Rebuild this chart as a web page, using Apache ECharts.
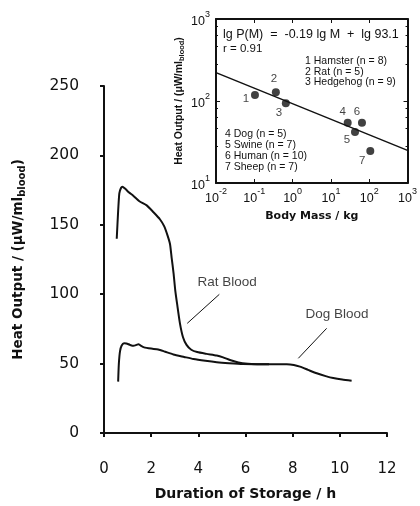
<!DOCTYPE html>
<html><head><meta charset="utf-8">
<script src="https://cdn.jsdelivr.net/npm/echarts@6/dist/echarts.min.js"></script>
<style>html,body{margin:0;padding:0;background:#fff}#c{width:420px;height:506px}</style>
</head><body><div id="c"></div>
<script>
// ---- Main chart data ----
const xTicks = [0, 2, 4, 6, 8, 10, 12];
const yTicks = [0, 50, 100, 150, 200, 250];
const ratTime = [0.54,0.6,0.65,0.72,0.78,0.9,1.05,1.24,1.5,1.81,2.1,2.37,2.55,2.7,2.8,2.87,2.95,3.02,3.1,3.22,3.35,3.5,3.7,3.95,4.35,4.78,5.05,5.34,5.7,6.1,6.5,7.0];
const ratHeat = [140,160,172.7,176.5,177.5,176,173.5,171,167,164,159,154,149,142,136,126,115,103,93,79,69,63.5,60,58.3,57,55.8,54.5,52.6,50.8,49.9,49.6,49.5];
const dogTime = [0.6,0.63,0.68,0.75,0.85,0.95,1.1,1.25,1.38,1.46,1.55,1.7,2.0,2.3,2.6,2.94,3.4,3.79,4.3,4.78,5.3,5.9,6.9,7.75,8.05,8.31,8.65,9.02,9.4,9.72,10.1,10.5];
const dogHeat = [37,50,59,63,64.6,64.5,63.5,62.8,63.5,64,63,61.7,60.8,60.2,58.5,56.6,54.8,53.3,52,51,50.3,49.7,49.5,49.5,49,47.8,45.5,43,41,39.6,38.5,37.7];
const annoNames = ['Rat Blood', 'Dog Blood'];
const annoLabelX = [5.22, 9.88];
const annoLabelY = [108.8, 85.7];
const annoLeaderX = [[4.89, 3.53], [9.44, 8.24]];
const annoLeaderY = [[99.9, 79], [75.4, 53.8]];

// ---- Inset data ----
const species = ['Hamster', 'Rat', 'Hedgehog', 'Dog', 'Swine', 'Human', 'Sheep'];
const speciesN = [8, 5, 9, 5, 7, 10, 7];
const bodyMass = [0.104, 0.365, 0.665, 27.4, 42.5, 64.6, 106.6];
const heatOut = [118, 128, 94, 54.3, 41.9, 54.3, 24.5];
const fitMass = [0.01, 1000];
const fitHeat = [222, 25];
const insetExpTicks = [-2, -1, 0, 1, 2, 3];

const chart = echarts.init(document.getElementById('c'), null, {renderer: 'canvas'});
const F = "'Liberation Sans', Arial, sans-serif";
const D = "'DejaVu Sans', sans-serif";
const black = '#111';

const zip = (a, b) => a.map((v, i) => [v, b[i]]);
const supFmt = v => '{b|10}{s|' + Math.round(Math.log10(v)) + '}';
const supRich = {
  b: {fontSize: 12.5, fontFamily: F, color: black, lineHeight: 18, verticalAlign: 'bottom'},
  s: {fontSize: 9, fontFamily: F, color: black, lineHeight: 18, verticalAlign: 'top', padding: [0,0,7,0]}
};
const labelOffsets = [[-9,4],[-2,-13],[-7,10],[-5,-11],[-8,8],[-5,-11],[-8,10]];

const leaderSeries = annoNames.map((n, i) => ({
  type: 'line', xAxisIndex: 0, yAxisIndex: 0, showSymbol: false, silent: true,
  lineStyle: {color: black, width: 1},
  data: zip(annoLeaderX[i], annoLeaderY[i])
}));

const option = {
  animation: false,
  backgroundColor: '#fff',
  grid: [
    {left: 104, right: 33, top: 86, bottom: 73},
    {left: 216, right: 12, top: 19, bottom: 323}
  ],
  xAxis: [
    {
      gridIndex: 0, type: 'value', min: 0, max: 12, interval: 2, offset: 19,
      name: 'Duration of Storage / h', nameLocation: 'middle', nameGap: 35,
      nameTextStyle: {fontFamily: D, fontWeight: 'bold', fontSize: 14, color: black},
      axisLine: {show: true, lineStyle: {color: black, width: 2}},
      axisTick: {show: true, inside: false, length: 4, lineStyle: {color: black, width: 2}},
      axisLabel: {fontFamily: D, fontSize: 15, color: black, margin: 10},
      splitLine: {show: false}
    },
    {
      gridIndex: 1, type: 'log', logBase: 10, min: 0.01, max: 1000,
      name: 'Body Mass / kg', nameLocation: 'middle', nameGap: 28,
      nameTextStyle: {fontFamily: D, fontWeight: 'bold', fontSize: 11, color: black},
      axisLine: {show: true, lineStyle: {color: black, width: 2}},
      axisTick: {show: true, inside: true, length: 4, lineStyle: {color: black, width: 1}},
      axisLabel: {formatter: supFmt, rich: supRich, margin: 4},
      splitLine: {show: false}
    },
    {
      gridIndex: 1, type: 'log', logBase: 10, min: 0.01, max: 1000, position: 'top',
      axisLine: {show: true, lineStyle: {color: black, width: 2}},
      axisTick: {show: true, inside: true, length: 4, lineStyle: {color: black, width: 1}},
      axisLabel: {show: false}, splitLine: {show: false}
    }
  ],
  yAxis: [
    {
      gridIndex: 0, type: 'value', min: 0, max: 250, interval: 50, offset: 15,
      name: 'Heat Output / (μW/ml{sub|blood})', nameLocation: 'middle', nameGap: 62,
      nameTextStyle: {fontFamily: D, fontWeight: 'bold', fontSize: 13.5, color: black,
        rich: {sub: {fontFamily: D, fontWeight: 'bold', fontSize: 10, color: black, padding: [8,0,0,0]}}},
      axisLine: {show: true, lineStyle: {color: black, width: 2}},
      axisTick: {show: true, inside: false, length: 4, lineStyle: {color: black, width: 2}},
      axisLabel: {fontFamily: D, fontSize: 15.5, color: black, margin: 10},
      splitLine: {show: false}
    },
    {
      gridIndex: 1, type: 'log', logBase: 10, min: 10, max: 1000,
      name: 'Heat Output / (μW/ml{sub|blood})', nameLocation: 'middle', nameGap: 30,
      nameTextStyle: {fontFamily: F, fontWeight: 'bold', fontSize: 10.5, color: black,
        rich: {sub: {fontFamily: F, fontWeight: 'bold', fontSize: 7.5, color: black, padding: [6,0,0,0]}}},
      axisLine: {show: true, lineStyle: {color: black, width: 2}},
      axisTick: {show: true, inside: true, length: 4, lineStyle: {color: black, width: 1}},
      minorTick: {show: true, splitNumber: 5, length: 2, lineStyle: {color: black}},
      axisLabel: {formatter: supFmt, rich: supRich, margin: 6},
      splitLine: {show: false}, minorSplitLine: {show: false}
    },
    {
      gridIndex: 1, type: 'log', logBase: 10, min: 10, max: 1000, position: 'right',
      axisLine: {show: true, lineStyle: {color: black, width: 2}},
      axisTick: {show: true, inside: true, length: 4, lineStyle: {color: black, width: 1}},
      minorTick: {show: true, splitNumber: 5, length: 2, lineStyle: {color: black}},
      axisLabel: {show: false}, splitLine: {show: false}, minorSplitLine: {show: false}
    }
  ],
  series: [
    {
      name: 'Rat Blood', type: 'line', xAxisIndex: 0, yAxisIndex: 0, showSymbol: false,
      smooth: 0.2, lineStyle: {color: black, width: 2}, data: zip(ratTime, ratHeat)
    },
    {
      name: 'Dog Blood', type: 'line', xAxisIndex: 0, yAxisIndex: 0, showSymbol: false,
      smooth: 0.2, lineStyle: {color: black, width: 2}, data: zip(dogTime, dogHeat)
    },
    ...leaderSeries,
    {
      type: 'scatter', xAxisIndex: 0, yAxisIndex: 0, symbolSize: 0, silent: true,
      data: annoNames.map((n, i) => ({value: [annoLabelX[i], annoLabelY[i]], name: n})),
      label: {show: true, position: 'inside', formatter: p => p.name,
        fontFamily: F, fontSize: 13.5, color: black}
    },
    {
      type: 'line', xAxisIndex: 1, yAxisIndex: 1, showSymbol: false, silent: true,
      lineStyle: {color: black, width: 1.5}, data: zip(fitMass, fitHeat)
    },
    {
      type: 'scatter', xAxisIndex: 1, yAxisIndex: 1, symbolSize: 8,
      itemStyle: {color: black},
      data: bodyMass.map((m, i) => ({value: [m, heatOut[i]], name: String(i + 1),
        label: {offset: labelOffsets[i]}})),
      label: {show: true, position: 'inside', formatter: p => p.name,
        fontFamily: F, fontSize: 11.5, color: black}
    }
  ],
  graphic: [
    {type: 'text', left: 223, top: 28, style: {text: 'lg P(M)  =  -0.19 lg M  +  lg 93.1',
      font: '12.5px ' + F, fill: black}},
    {type: 'text', left: 223, top: 43, style: {text: 'r = 0.91', font: '11.5px ' + F, fill: black}},
    {type: 'text', left: 305, top: 56, style: {
      text: species.slice(0, 3).map((s, i) => (i + 1) + ' ' + s + ' (n = ' + speciesN[i] + ')').join('\n'),
      font: '10.5px ' + F, fill: black, lineHeight: 10.5}},
    {type: 'text', left: 225, top: 129, style: {
      text: species.slice(3).map((s, i) => (i + 4) + ' ' + s + ' (n = ' + speciesN[i + 3] + ')').join('\n'),
      font: '10.5px ' + F, fill: black, lineHeight: 10.8}}
  ]
};
chart.setOption(option);
</script>
</body></html>
